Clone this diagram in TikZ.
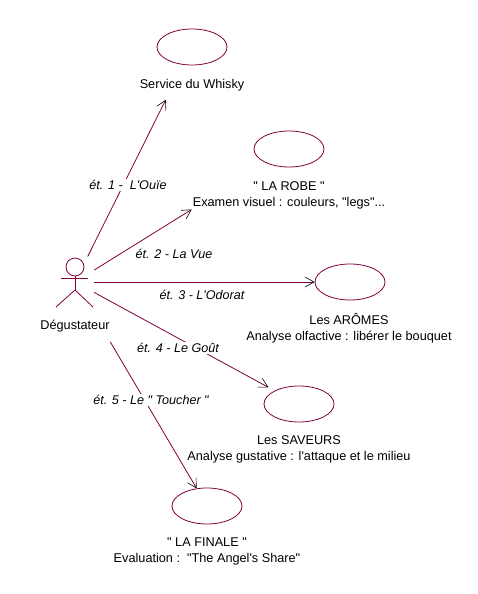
\documentclass[tikz,border=0pt]{standalone}
\usepackage{fontspec}
\setmainfont{Liberation Sans}[Ligatures=TeXOff]
\usetikzlibrary{arrows.meta,shapes.geometric}
\definecolor{uml}{HTML}{800040}
\tikzset{
  x=1pt,y=-1pt,
  usecase/.style={draw=uml,line width=0.8pt,ellipse,minimum width=70pt,minimum height=36pt,inner sep=0pt},
  txt/.style={font=\fontsize{12.7}{16}\selectfont,align=center,inner sep=0pt,text=black},
  edgelab/.style={font=\fontsize{12.6}{14}\selectfont\itshape,fill=white,inner sep=1pt,text=black},
  limb/.style={draw=uml,line width=0.8pt},
  assoc/.style={draw=uml,line width=0.8pt,-{Straight Barb[length=9pt,width=10pt,line width=0.6pt,color=black]}},
}
\begin{document}
\begin{tikzpicture}
\useasboundingbox (0,0) rectangle (478,594);
\fill[white] (0,0) rectangle (478,594);
% use cases
\node[usecase] (service) at (192,47) {};
\node[usecase] (robe) at (289,149) {};
\node[usecase] (aromes) at (350,282) {};
\node[usecase] (saveurs) at (299,404) {};
\node[usecase] (finale) at (207,506) {};
% actor
\node[inner sep=0pt,minimum size=0pt] (actor) at (75,282) {};
\node[limb,circle,minimum size=18pt,inner sep=0pt] (head) at (75,267) {};
\node[inner sep=0pt,minimum size=0pt] (hip) at (75,290) {};
\coordinate (armL) at (61,278);
\coordinate (armR) at (88,278);
\coordinate (legL) at (56,307);
\coordinate (legR) at (93,307);
\draw[limb] (head.south) -- (hip);
\draw[limb] (armL) -- (armR);
\draw[limb] (legL) -- (hip) -- (legR);
% connectors
\draw[assoc,shorten <=28.6pt,shorten >=59pt] (actor.center) -- (service.center);
\draw[assoc,shorten <=22.5pt,shorten >=114.6pt] (actor.center) -- (robe.center);
\draw[assoc,shorten <=19pt] (actor.center) -- (aromes);
\draw[assoc,shorten <=21.6pt,shorten >=7pt] (actor.center) -- (saveurs);
\draw[assoc,shorten <=69.5pt] (actor.center) -- (finale);
% labels
\node[txt] (tact) at (75,326) {Dégustateur};
\node[txt] (t1) at (192,85) {Service du Whisky};
\node[txt] (t2) at (289,195) {" LA ROBE "\\Examen visuel : couleurs, "legs"...};
\node[txt] (t3) at (349,328) {Les ARÔMES\\Analyse olfactive : libérer le bouquet};
\node[txt] (t4) at (299,449) {Les SAVEURS\\Analyse gustative : l'attaque et le milieu};
\node[txt] (t5) at (207,551) {" LA FINALE "\\Evaluation :\ \ "The Angel's Share"};
\node[edgelab] (e1) at (128,185) {ét. 1 -\ \ L'Ouïe};
\node[edgelab] (e2) at (174,254) {ét. 2 - La Vue};
\node[edgelab] (e3) at (202,295) {ét. 3 - L'Odorat};
\node[edgelab] (e4) at (178,348) {ét. 4 - Le Goût};
\node[edgelab] (e5) at (151,400) {ét. 5 - Le " Toucher "};
\end{tikzpicture}
\end{document}
